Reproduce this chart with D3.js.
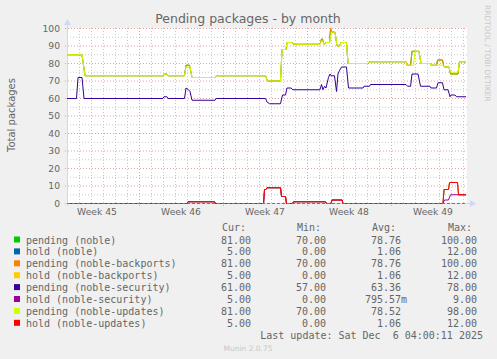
<!DOCTYPE html>
<html>
<head>
<meta charset="utf-8">
<script src="https://cdn.jsdelivr.net/npm/d3@7/dist/d3.min.js"></script>
<style>
  body { margin: 0; background: #f0f0f0; overflow: hidden; }
  svg { overflow: visible; }
  text { font-family: "DejaVu Sans", sans-serif; fill: #666666; }
  .mono { font-family: "DejaVu Sans Mono", monospace; }
</style>
</head>
<body>
<div class="chart"></div>
<script>
const width = 497;
const height = 359;

// time axis in days from the left edge of the plot (12 px per day)
const spanDays = 33.333;
const weekLabels = ["Week 45", "Week 46", "Week 47", "Week 48", "Week 49"];
const weekMid = [2.5, 9.5, 16.5, 23.5, 30.5];
const weekStart = [6, 13, 20, 27];
const yTicks = [0, 10, 20, 30, 40, 50, 60, 70, 80, 90, 100];

// [day, value]
const pendingNoble = [[0,85],[1.25,85],[1.5,73],[8.04,73],[8.13,74],[8.33,74],[8.42,73],[9.79,73],[9.92,79],[10.21,79],[10.42,72],[12.33,72],[12.42,73],[16.54,73],[16.71,70],[17.79,70],[17.92,88],[18.25,88],[18.33,92],[18.79,92],[18.88,91],[21.08,91],[21.21,94],[21.29,94],[21.42,91],[21.58,92],[21.88,92],[21.96,100],[22.04,98],[22.33,98],[22.5,90],[22.71,90],[22.83,92],[23.29,92],[23.42,80],[25.08,80],[25.21,81],[28.25,81],[28.33,79],[28.63,79],[28.75,87],[29.33,87],[29.5,80],[30.25,80],[30.33,79],[30.79,79],[30.88,82],[31.29,82],[31.38,79],[31.46,78],[31.83,78],[31.96,74],[32.58,74],[32.71,81],[33.25,81]];
const pendingBackports = pendingNoble;
const pendingUpdates = [[0,85],[1.25,85],[1.5,73],[8.04,73],[8.13,74],[8.33,74],[8.42,73],[9.79,73],[9.92,78],[10.25,78],[10.42,72],[12.33,72],[12.42,73],[16.54,73],[16.71,70],[17.79,70],[17.92,88],[18.25,88],[18.33,92],[18.79,92],[18.88,91],[21.08,91],[21.21,93],[21.29,93],[21.42,91],[21.58,92],[21.88,92],[22.04,98],[22.33,98],[22.5,90],[22.71,90],[22.83,92],[23.29,92],[23.42,80],[25.08,80],[25.21,81],[28.25,81],[28.33,79],[28.88,79],[29.0,87],[29.33,87],[29.5,80],[30.25,80],[30.33,79],[31.38,79],[31.46,78],[31.83,78],[31.96,75],[32.58,75],[32.71,81],[33.25,81]];
const pendingSecurity = [[0,60],[0.79,60],[0.92,72],[1.25,72],[1.42,60],[8.0,60],[8.08,61],[8.33,61],[8.42,60],[9.79,60],[9.92,66],[10.13,65],[10.25,64],[10.42,59],[12.33,59],[12.42,60],[16.54,60],[16.67,58],[16.88,57],[17.79,57],[17.96,62],[18.21,62],[18.33,66],[18.67,66],[18.83,65],[21.08,65],[21.21,68],[21.33,65],[21.46,67],[21.58,66],[21.79,72],[21.92,74],[22.0,73],[22.29,73],[22.46,64],[22.58,74],[22.71,76],[22.88,78],[23.29,78],[23.46,66],[24.67,66],[24.75,67],[25.21,67],[25.29,68],[28.25,68],[28.38,67],[28.63,67],[28.75,74],[29.25,74],[29.46,67],[30.25,67],[30.33,66],[30.79,66],[30.92,69],[31.29,69],[31.42,65],[31.75,65],[31.92,61],[32.0,62],[32.33,62],[32.46,61],[33.25,61]];
const holdNoble = [[0,0],[10.0,0],[10.08,1],[12.29,1],[12.38,0],[16.38,0],[16.46,8],[16.58,8],[16.67,9],[17.79,9],[17.88,4],[18.21,4],[18.29,0],[18.79,0],[18.88,1],[21.54,1],[21.63,0],[22.0,0],[22.08,2],[22.92,2],[23.0,0],[31.33,0],[31.42,8],[31.79,8],[31.88,12],[32.54,12],[32.63,5],[33.25,5]];
const holdBackports = holdNoble;
const holdUpdates = holdNoble;
const holdSecurity = [[0,0],[10.0,0],[10.08,1],[12.29,1],[12.38,0],[16.38,0],[16.46,8],[16.58,8],[16.67,9],[17.79,9],[17.88,4],[18.21,4],[18.29,0],[18.79,0],[18.88,1],[21.54,1],[21.63,0],[22.0,0],[22.08,2],[22.92,2],[23.0,0],[31.33,0],[31.46,2],[31.79,2],[31.96,5],[33.25,5]];

const seriesNames = ["pending (noble)", "hold (noble)", "pending (noble-backports)", "hold (noble-backports)",
  "pending (noble-security)", "hold (noble-security)", "pending (noble-updates)", "hold (noble-updates)"];
const seriesColors = ["#00cc00", "#0066b3", "#ff8000", "#ffcc00", "#330099", "#990099", "#ccff00", "#ff0000"];
const seriesData = [pendingNoble, holdNoble, pendingBackports, holdBackports, pendingSecurity, holdSecurity, pendingUpdates, holdUpdates];
const curVals = ["81.00", "5.00", "81.00", "5.00", "61.00", "5.00", "81.00", "5.00"];
const minVals = ["70.00", "0.00", "70.00", "0.00", "57.00", "0.00", "70.00", "0.00"];
const avgVals = ["78.76", "1.06", "78.76", "1.06", "63.36", "795.57m", "78.52", "1.06"];
const maxVals = ["100.00", "12.00", "100.00", "12.00", "78.00", "9.00", "98.00", "12.00"];

const margin = { top: 28, left: 67 };
const innerWidth = 400;
const innerHeight = 175;

const svg = d3.select(".chart")
  .append("svg")
  .attr("width", width)
  .attr("height", height)
  .style("display", "block");

svg.append("rect").attr("width", width).attr("height", height).attr("fill", "#f0f0f0");

const x = d3.scaleLinear().domain([0, spanDays]).range([margin.left, margin.left + innerWidth]);
const y = d3.scaleLinear().domain([0, 100]).range([margin.top + innerHeight, margin.top]);

svg.append("rect")
  .attr("x", x(0)).attr("y", y(100))
  .attr("width", innerWidth).attr("height", innerHeight)
  .attr("fill", "#ffffff");

// grid
const grid = svg.append("g");
const minorY = d3.range(5, 100, 10);
grid.selectAll(".gy").data(minorY).enter().append("line")
  .attr("x1", x(0)).attr("x2", x(spanDays))
  .attr("y1", d => y(d) + 0.5).attr("y2", d => y(d) + 0.5)
  .attr("stroke", "#c8c8c8").attr("stroke-dasharray", "1,2");
const minorX = d3.range(1, 34).filter(d => !weekStart.includes(d));
grid.selectAll(".gx").data(minorX).enter().append("line")
  .attr("x1", d => x(d) + 0.5).attr("x2", d => x(d) + 0.5)
  .attr("y1", y(0)).attr("y2", y(100))
  .attr("stroke", "#c8c8c8").attr("stroke-dasharray", "1,2");
grid.selectAll(".my").data(yTicks).enter().append("line")
  .attr("x1", x(0) - 2).attr("x2", x(spanDays))
  .attr("y1", d => y(d) + 0.5).attr("y2", d => y(d) + 0.5)
  .attr("stroke", "#e6a0a0").attr("stroke-dasharray", "1,2");
grid.selectAll(".mx").data(weekStart).enter().append("line")
  .attr("x1", d => x(d) + 0.5).attr("x2", d => x(d) + 0.5)
  .attr("y1", y(0) + 3).attr("y2", y(100))
  .attr("stroke", "#e6a0a0").attr("stroke-dasharray", "1,2");

// axis arrows
const axisCol = "#cfd6f8";
svg.append("line").attr("x1", x(0) + 0.5).attr("x2", x(0) + 0.5)
  .attr("y1", y(0) + 3).attr("y2", y(100) - 5).attr("stroke", axisCol);
svg.append("path")
  .attr("d", `M${x(0) - 3},${y(100) - 3} L${x(0) + 4},${y(100) - 3} L${x(0) + 0.5},${y(100) - 9} Z`)
  .attr("fill", axisCol);
svg.append("line").attr("x1", x(0) - 3).attr("x2", x(spanDays) + 4)
  .attr("y1", y(0) + 0.5).attr("y2", y(0) + 0.5).attr("stroke", axisCol);
svg.append("path")
  .attr("d", `M${x(spanDays) + 3},${y(0) - 3} L${x(spanDays) + 3},${y(0) + 4} L${x(spanDays) + 9},${y(0) + 0.5} Z`)
  .attr("fill", axisCol);

// series
const line = d3.line().x(d => x(d[0])).y(d => y(d[1]) + 0.5);
svg.selectAll(".series").data(seriesData).enter().append("path")
  .attr("class", "series")
  .attr("d", line)
  .attr("fill", "none")
  .attr("stroke", (d, i) => seriesColors[i])
  .attr("stroke-width", 1)
  .attr("stroke-linejoin", "round");

// baseline as seen at value 0
svg.append("line").attr("x1", x(0)).attr("x2", x(spanDays))
  .attr("y1", y(0) + 0.5).attr("y2", y(0) + 0.5)
  .attr("stroke", "#00cc00").attr("stroke-width", 1).attr("stroke-dasharray", "3,2");

// tick labels
svg.selectAll(".ylab").data(yTicks).enter().append("text")
  .attr("x", 60).attr("y", d => y(d) + 3.5)
  .attr("text-anchor", "end").style("font-size", "9.2px")
  .text(d => d);
svg.selectAll(".xlab").data(weekLabels).enter().append("text")
  .attr("x", (d, i) => x(weekMid[i])).attr("y", 215)
  .attr("text-anchor", "middle").style("font-size", "9.2px")
  .text(d => d);

svg.append("text")
  .attr("x", 248).attr("y", 23)
  .attr("text-anchor", "middle").style("font-size", "12.5px")
  .text("Pending packages - by month");

svg.append("text")
  .attr("transform", "translate(15,115) rotate(-90)")
  .attr("text-anchor", "middle").style("font-size", "10px")
  .text("Total packages");

svg.append("text")
  .attr("transform", "translate(485,5) rotate(90)")
  .attr("text-anchor", "start").style("font-size", "7.5px").style("fill", "#c8c8c8")
  .text("RRDTOOL / TOBI OETIKER");

// legend
const rowY = i => 243.5 + i * 11.9;
const colEnd = [251, 326, 401, 477];
const headers = ["Cur:", "Min:", "Avg:", "Max:"];
const cols = [curVals, minVals, avgVals, maxVals];

svg.selectAll(".hdr").data(headers).enter().append("text")
  .attr("class", "mono")
  .attr("x", (d, i) => colEnd[i] - 29).attr("y", 230.5)
  .style("font-size", "10px")
  .text(d => d);

const rows = svg.selectAll(".row").data(seriesNames).enter().append("g")
  .attr("transform", (d, i) => `translate(0,${rowY(i)})`);
rows.append("rect")
  .attr("x", 14).attr("y", -7).attr("width", 6).attr("height", 6)
  .attr("fill", (d, i) => seriesColors[i]);
rows.append("text")
  .attr("class", "mono").attr("x", 26).attr("y", 0)
  .style("font-size", "10px")
  .text(d => d);
cols.forEach((vals, c) => {
  rows.append("text")
    .attr("class", "mono").attr("x", colEnd[c]).attr("y", 0)
    .attr("text-anchor", "end").style("font-size", "10px")
    .text((d, i) => vals[i].replace("m", ""));
});
// SI suffix hangs past the column edge
rows.filter((d, i) => avgVals[i].endsWith("m")).append("text")
  .attr("class", "mono").attr("x", colEnd[2]).attr("y", 0)
  .style("font-size", "10px")
  .text("m");

svg.append("text")
  .attr("class", "mono").attr("x", 483).attr("y", 339)
  .attr("xml:space", "preserve")
  .attr("text-anchor", "end").style("font-size", "10px")
  .text("Last update: Sat Dec  6 04:00:11 2025");

svg.append("text")
  .attr("x", 248).attr("y", 351)
  .attr("text-anchor", "middle").style("font-size", "7.5px").style("fill", "#c8c8c8")
  .text("Munin 2.0.75");
</script>
</body>
</html>
